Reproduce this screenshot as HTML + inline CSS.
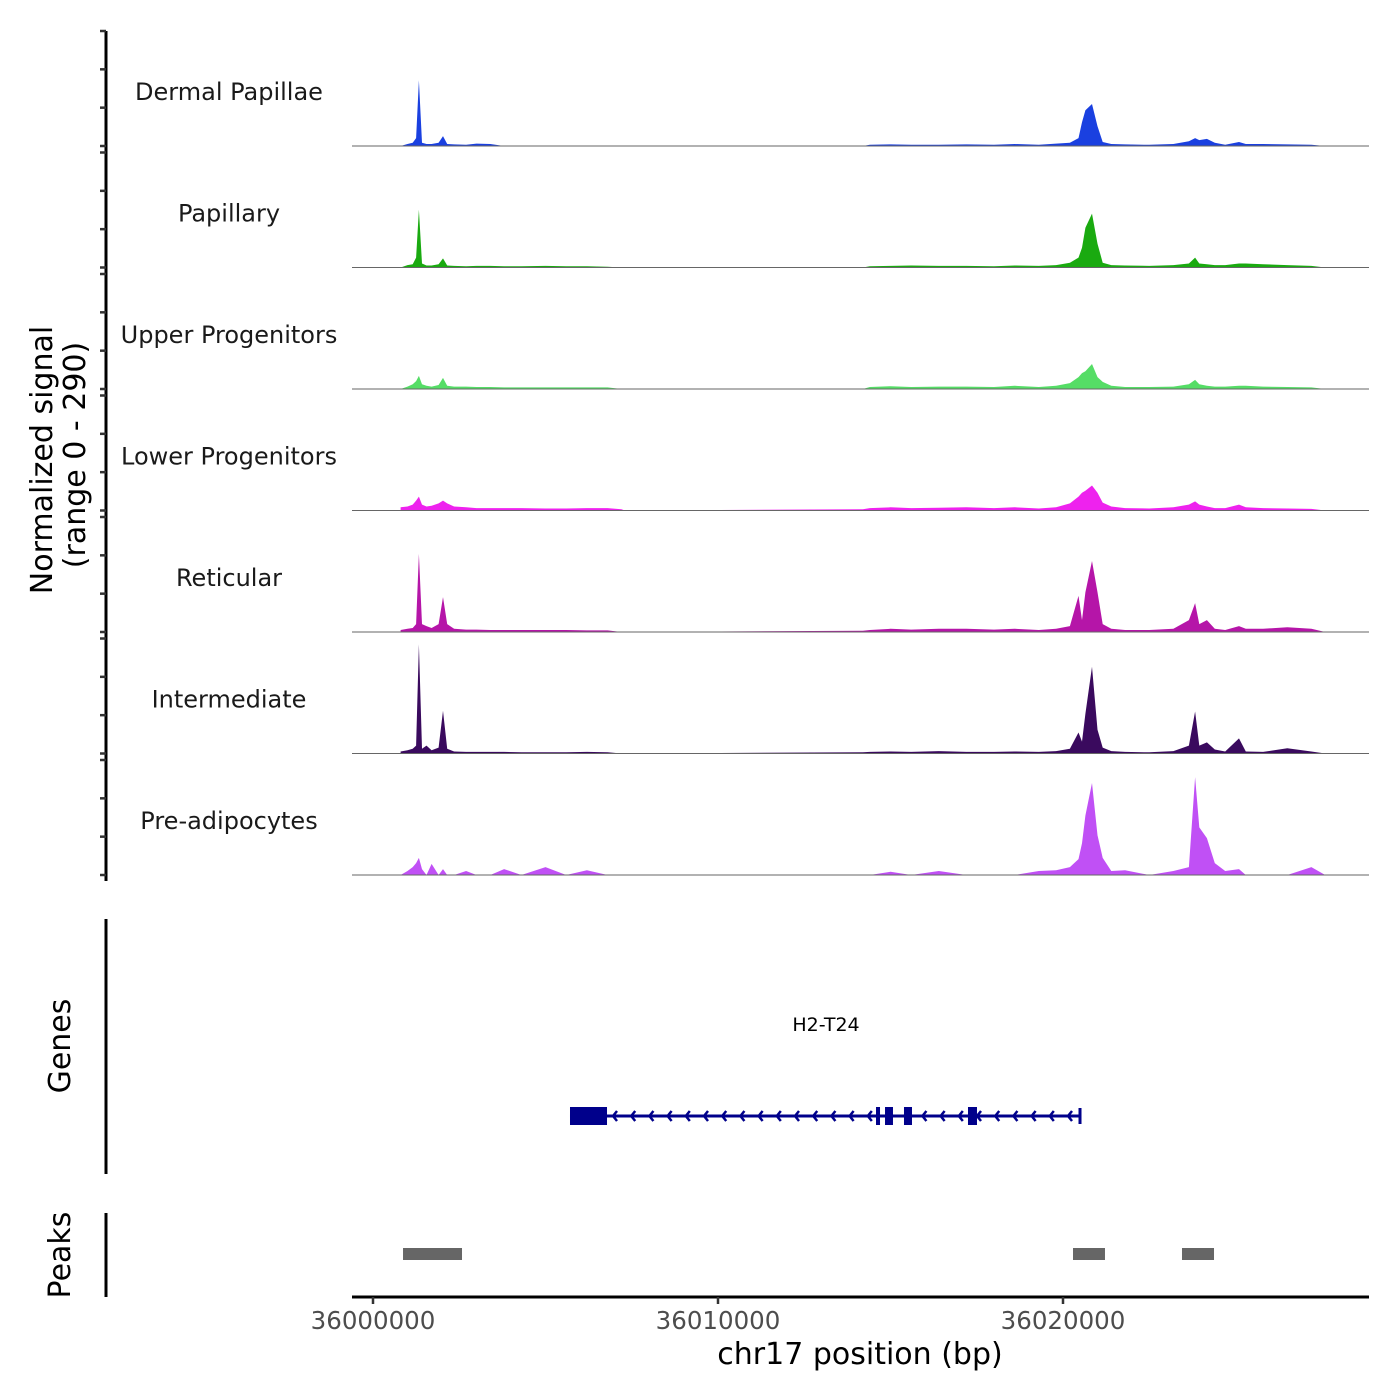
<!DOCTYPE html>
<html><head><meta charset="utf-8">
<style>
html,body{margin:0;padding:0;background:#fff;}
svg{display:block;font-family:"DejaVu Sans","Liberation Sans",sans-serif;}
</style></head>
<body>
<svg id="chart" width="1400" height="1400" viewBox="0 0 1400 1400" xmlns="http://www.w3.org/2000/svg">
  <g id="tracks"></g>
  <line x1="106" y1="31" x2="106" y2="881" stroke="#000" stroke-width="3"/>
  <g id="yticks"></g>
  <text transform="translate(52,460) rotate(-90)" text-anchor="middle" font-size="30" fill="#000">Normalized signal</text>
  <text transform="translate(85,455) rotate(-90)" text-anchor="middle" font-size="30" fill="#000">(range 0 - 290)</text>

  <line x1="106" y1="919" x2="106" y2="1174" stroke="#000" stroke-width="3"/>
  <text transform="translate(70,1046) rotate(-90)" text-anchor="middle" font-size="30" fill="#000">Genes</text>
  <g id="gene"></g>
  <text x="826" y="1031" text-anchor="middle" font-size="19" fill="#000">H2-T24</text>

  <line x1="106" y1="1213" x2="106" y2="1297" stroke="#000" stroke-width="3"/>
  <text transform="translate(70,1255) rotate(-90)" text-anchor="middle" font-size="30" fill="#000">Peaks</text>
  <g id="peaks"></g>

  <line x1="352" y1="1297" x2="1369" y2="1297" stroke="#000" stroke-width="3"/>
  <g id="xticks"></g>
  <text x="860" y="1364" text-anchor="middle" font-size="30" fill="#000">chr17 position (bp)</text>
</svg>
<script>
const NS="http://www.w3.org/2000/svg";
const trackNames=["Dermal Papillae","Papillary","Upper Progenitors","Lower Progenitors","Reticular","Intermediate","Pre-adipocytes"];
const trackColors=["#1a40e0","#1aaa10","#55dd66","#ee22ee","#b515a8","#3a0a5e","#c050f5"];
const positionsBp=[800,1000,1150,1250,1330,1420,1550,1700,1900,2030,2150,2350,2700,3000,3400,3800,4300,5000,5600,6200,6800,7200,7300,
14200,14400,15000,15600,16400,17200,18000,18600,19300,19800,20200,20450,20550,20650,20840,21000,21150,21400,21800,22500,23200,23650,23830,23950,24170,24400,24700,25100,25300,25800,26500,27200,27600];
const dermalPapillae=[0,5,8,20,166,8,5,5,8,25,5,4,3,6,5,0,0,0,0,0,0,0,0, 0,3,4,3,3,4,3,5,3,6,8,20,60,90,106,50,10,5,4,3,5,12,20,15,18,8,3,10,5,5,4,3,0];
const papillary=[0,6,8,25,146,10,5,5,8,23,5,4,3,4,4,3,3,4,3,3,2,0,0, 0,3,4,5,4,4,3,5,4,6,12,25,50,100,136,60,12,6,5,4,6,10,25,10,8,6,6,10,10,8,6,4,0];
const upperProgenitors=[0,6,12,20,33,12,8,6,10,28,8,6,6,5,5,4,4,4,4,4,4,0,0, 0,5,7,5,6,6,5,8,5,8,15,30,40,45,63,30,18,8,5,5,6,12,23,12,8,6,6,8,8,6,5,4,0];
const lowerProgenitors=[8,10,15,25,35,15,10,12,18,25,18,10,8,6,6,6,6,5,5,6,6,3,0, 3,6,8,6,7,8,6,8,5,8,18,35,45,50,63,45,20,10,6,5,8,15,23,15,10,6,6,15,8,6,5,4,0];
const reticular=[5,8,10,20,197,20,15,10,20,88,20,8,6,6,5,5,5,5,5,4,4,0,0, 3,5,8,6,8,8,6,8,5,8,15,91,30,100,179,100,20,8,5,5,8,30,73,20,30,8,5,15,8,8,12,8,0];
const intermediate=[5,8,12,20,275,12,20,8,15,108,12,5,4,4,4,4,3,3,3,4,3,0,0, 3,4,5,4,6,4,4,5,4,6,12,53,30,100,219,60,15,6,4,3,6,20,106,20,28,10,5,38,5,4,13,5,0];
const preAdipocytes=[0,10,20,30,43,15,0,28,0,15,0,0,10,0,0,15,0,20,0,12,0,0,0, 0,0,8,0,10,0,0,0,10,12,20,40,80,150,232,100,43,10,12,0,10,20,247,120,93,30,10,15,0,0,0,20,0];
const trackValues=[dermalPapillae,papillary,upperProgenitors,lowerProgenitors,reticular,intermediate,preAdipocytes];
const xTickValues=[36000000,36010000,36020000];
const xTickLabels=["36000000","36010000","36020000"];
const exonStarts=[5710,14580,14841,15391,17246];
const exonEnds=[6783,14696,15072,15623,17507];
const geneStart=5710, geneEnd=20493;
const peakStarts=[870,20290,23449];
const peakEnds=[2580,21217,24377];

const ORIGIN=36000000;
function xs(bp){return 373+(bp-ORIGIN)*0.0345;}
function xrel(off){return xs(ORIGIN+off);}
const TRACK_TOP=31, TRACK_STEP=121.5, TRACK_H=115, YMAX=290;
function ys(v,i){return TRACK_TOP+i*TRACK_STEP+TRACK_H - v/YMAX*TRACK_H;}

const tracks=document.getElementById('tracks');
trackValues.forEach((vals,i)=>{
  const g=document.createElementNS(NS,'g');
  
  
  const base=ys(0,i);
  let d='M'+xrel(positionsBp[0]).toFixed(1)+','+base;
  vals.forEach((v,k)=>{d+=' L'+xrel(positionsBp[k]).toFixed(1)+','+ys(v,i).toFixed(1);});
  d+=' L'+xrel(positionsBp[positionsBp.length-1]).toFixed(1)+','+base+' Z';
  const p=document.createElementNS(NS,'path');
  p.setAttribute('d',d);p.setAttribute('fill',trackColors[i]);
  
  
  g.appendChild(p);
  const bl=document.createElementNS(NS,'line');
  bl.setAttribute('x1',352);bl.setAttribute('x2',1369);bl.setAttribute('y1',base);bl.setAttribute('y2',base);
  bl.setAttribute('stroke','#666');bl.setAttribute('stroke-width','1');
  
  
  g.appendChild(bl);
  const t=document.createElementNS(NS,'text');
  t.setAttribute('x',229);t.setAttribute('y',TRACK_TOP+i*TRACK_STEP+69);
  t.setAttribute('text-anchor','middle');t.setAttribute('font-size','24');t.setAttribute('fill','#1a1a1a');
  t.textContent=trackNames[i];
  
  
  g.appendChild(t);
  tracks.appendChild(g);
});
const yt=document.getElementById('yticks');
for(let i=0;i<7;i++){for(let q=0;q<4;q++){
  const y=TRACK_TOP+i*TRACK_STEP+q*TRACK_H/3;
  const l=document.createElementNS(NS,'line');
  l.setAttribute('x1',100);l.setAttribute('x2',106);l.setAttribute('y1',y);l.setAttribute('y2',y);
  l.setAttribute('stroke','#333');l.setAttribute('stroke-width','2.5');
  
  
  yt.appendChild(l);
}}
const gene=document.getElementById('gene');
function rect(parent,x,y,w,h,fill,name){const r=document.createElementNS(NS,'rect');
  r.setAttribute('x',x);r.setAttribute('y',y);r.setAttribute('width',w);r.setAttribute('height',h);r.setAttribute('fill',fill);
  
  
  parent.appendChild(r);return r;}
const gy=1116;
const gl=document.createElementNS(NS,'line');
gl.setAttribute('x1',xrel(geneStart));gl.setAttribute('x2',xrel(geneEnd));gl.setAttribute('y1',gy);gl.setAttribute('y2',gy);
gl.setAttribute('stroke','#00008b');gl.setAttribute('stroke-width','3');


gene.appendChild(gl);
for(let x=xrel(exonEnds[0])+6;x<xrel(geneEnd)-4;x+=18.2){
  const c=document.createElementNS(NS,'path');
  c.setAttribute('d','M'+(x+4)+','+(gy-5)+' L'+x+','+gy+' L'+(x+4)+','+(gy+5));
  c.setAttribute('stroke','#00008b');c.setAttribute('stroke-width','2.5');c.setAttribute('fill','none');
  
  
  gene.appendChild(c);
}
exonStarts.forEach((s,k)=>{const x1=xrel(s),x2=xrel(exonEnds[k]);
  rect(gene,x1,gy-9,Math.max(x2-x1,3),18,'#00008b','exon');});
rect(gene,xrel(geneEnd)-1.5,gy-8,3,16,'#00008b','gene-end-mark');
const pk=document.getElementById('peaks');
peakStarts.forEach((s,k)=>{rect(pk,xrel(s),1248,xrel(peakEnds[k])-xrel(s),12,'#666','peak-bar');});
const xt=document.getElementById('xticks');
xTickValues.forEach((v,k)=>{const x=xs(v);
  const l=document.createElementNS(NS,'line');
  l.setAttribute('x1',x);l.setAttribute('x2',x);l.setAttribute('y1',1297);l.setAttribute('y2',1304);
  l.setAttribute('stroke','#333');l.setAttribute('stroke-width','2.5');
  
  
  xt.appendChild(l);
  const t=document.createElementNS(NS,'text');
  t.setAttribute('x',x);t.setAttribute('y',1329);t.setAttribute('text-anchor','middle');
  t.setAttribute('font-size','24.5');t.setAttribute('fill','#4d4d4d');t.textContent=xTickLabels[k];
  
  
  xt.appendChild(t);
});
</script>
</body></html>
